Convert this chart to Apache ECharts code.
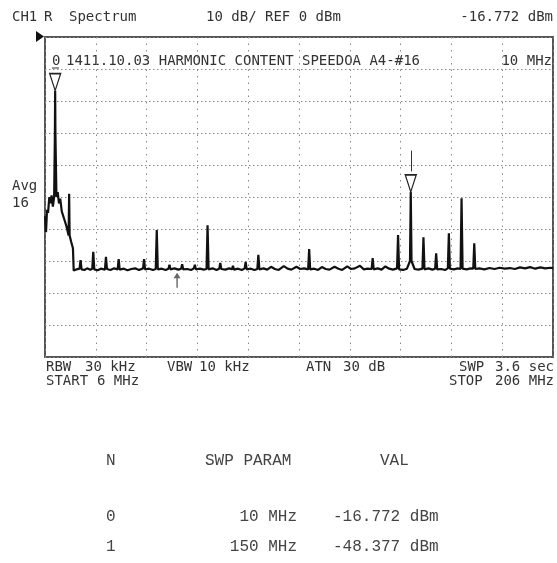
<!DOCTYPE html>
<html>
<head>
<meta charset="utf-8">
<script src="https://cdn.jsdelivr.net/npm/echarts@6/dist/echarts.min.js"></script>
<style>
html,body{margin:0;padding:0;background:#fff;}
#c{width:557px;height:563px;}
</style>
</head>
<body>
<div id="c"></div>
<script>
// ---- data ----
var startMHz = 6, stopMHz = 206;
var refDbm = 0, bottomDbm = -100, dbPerDiv = 10;
var traceFreqMHz = [
 6.0,6.4,6.8,7.2,7.7,8.2,8.6,9.1,9.6,9.9,10.0,10.1,10.5,11.0,11.5,12.0,12.6,13.2,13.8,14.4,15.0,15.3,15.5,15.7,16.3,17.0,17.3,
 18.5,19.6,20.0,20.4,21.5,22.6,23.8,24.6,25.0,25.4,26.7,28.0,29.6,30.0,30.4,31.8,33.2,34.6,35.0,35.4,37.0,38.5,40.0,41.5,43.0,44.6,45.0,45.4,
 47.0,48.5,49.6,50.0,50.4,52.0,53.5,54.6,55.0,55.4,57.0,58.5,59.6,60.0,60.4,62.0,63.5,64.6,65.0,65.4,67.0,68.5,69.6,70.0,70.4,
 72.0,73.5,74.6,75.0,75.4,77.0,78.5,79.6,80.0,80.4,82.0,83.5,84.6,85.0,85.4,87.0,88.5,89.6,90.0,90.4,92.0,93.5,95.0,96.5,98.0,
 100.0,101.5,103.0,105.0,106.5,108.0,109.6,110.0,110.4,112.0,113.5,115.0,116.5,118.0,120.0,121.5,123.0,125.0,126.5,128.0,130.0,
 131.5,133.0,134.6,135.0,135.4,137.0,138.5,140.0,141.5,143.0,144.6,145.0,145.4,147.0,148.5,149.7,150.0,150.3,151.5,153.0,154.6,
 155.0,155.4,157.0,158.5,159.6,160.0,160.4,162.0,163.5,164.6,165.0,165.4,167.0,168.5,169.6,170.0,170.4,172.0,173.5,174.6,175.0,
 175.4,177.0,179.0,181.0,183.0,185.0,187.0,189.0,191.0,193.0,195.0,197.0,199.0,201.0,203.0,205.0,206.0
];
var traceLevelDbm = [
 -56,-61,-54,-55,-50,-52,-49.5,-53,-50,-30,-16.772,-30,-50,-48.5,-52,-50.5,-54.5,-55,-57.5,-59,-61,-62,-49,-62,-64,-66,-73,
 -72.6,-72.4,-69.7,-72.6,-72.8,-72.3,-72.7,-72.4,-67.1,-72.6,-72.9,-72.4,-72.7,-68.7,-72.5,-72.8,-72.3,-72.6,-69.4,-72.7,-72.4,-72.9,-72.5,-72.3,-72.8,-72.3,-69.4,-72.6,
 -72.4,-72.8,-72.5,-60.3,-72.6,-72.4,-72.8,-72.4,-71.2,-72.6,-72.3,-72.7,-72.4,-71.0,-72.6,-72.5,-72.8,-72.3,-71.2,-72.6,-72.4,-72.7,-72.5,-58.8,-72.6,
 -72.3,-72.8,-72.4,-70.6,-72.5,-72.7,-72.3,-72.6,-71.5,-72.7,-72.4,-72.8,-72.3,-70.3,-72.6,-72.4,-72.8,-72.5,-68.1,-72.6,-72.3,-72.7,-71.8,-72.5,-72.8,
 -71.6,-72.4,-72.7,-71.8,-72.5,-72.3,-72.6,-66.3,-72.6,-72.4,-72.8,-71.9,-72.5,-72.7,-71.8,-72.4,-72.8,-71.7,-72.5,-72.3,-71.5,
 -72.6,-72.4,-72.5,-69.1,-72.6,-72.3,-72.7,-71.7,-72.4,-72.7,-72.3,-61.9,-72.6,-72.8,-72.4,-70,-48.377,-70,-72.5,-72.7,-72.4,
 -62.6,-72.6,-72.3,-72.7,-72.4,-67.6,-72.6,-72.5,-72.8,-72.3,-61.3,-72.4,-72.6,-72.3,-72.5,-50.4,-72.4,-72.6,-72.3,-72.4,-64.5,
 -72.5,-72.3,-72.6,-72.2,-72.5,-72.1,-72.4,-72.2,-72.5,-72.0,-72.3,-71.9,-72.4,-72.0,-72.3,-72.1,-72.2
];
var markerNo = ['0', '1'];
var markerFreqMHz = [10, 150];
var markerLevelDbm = [-16.772, -48.377];
var arrowFreqMHz = 58, arrowLevelDbm = -76;
var headerTexts = ['CH1', 'R', 'Spectrum', '10 dB/ REF 0 dBm', '-16.772 dBm'];
var titleText = '1411.10.03 HARMONIC CONTENT SPEEDOA A4-#16';
var footerRow1 = ['RBW', '30 kHz', 'VBW', '10 kHz', 'ATN', '30 dB', 'SWP', '3.6 sec'];
var footerRow2 = ['START', '6 MHz', 'STOP', '206 MHz'];
var tableHeader = ['N', 'SWP PARAM', 'VAL'];
var tableParams = ['10 MHz', '150 MHz'];
var tableVals = ['-16.772 dBm', '-48.377 dBm'];

// ---- build ----
var trace = traceFreqMHz.map(function (f, i) { return [f, traceLevelDbm[i]]; });
var mono = "'DejaVu Sans Mono', 'Liberation Mono', monospace";
var tfont = "'Liberation Mono', 'DejaVu Sans Mono', monospace";
var TXT = '#333';
function t(x, y, s, opt) {
  opt = opt || {};
  return { type: 'text', x: x, y: y, silent: true,
    style: { text: s, fill: opt.fill || TXT, font: opt.font || ('14px ' + mono),
      textAlign: opt.align || 'left', textVerticalAlign: 'middle' } };
}
var TF = { font: '16px ' + tfont, fill: '#444' };
function tf(x, y, s, align) { return t(x, y, s, { font: TF.font, fill: TF.fill, align: align }); }
var graphics = [
  t(12, 17, headerTexts[0]), t(44, 17, headerTexts[1]), t(69, 17, headerTexts[2]),
  t(206, 17, headerTexts[3]), t(553, 17, headerTexts[4], { align: 'right' }),
  { type: 'polygon', shape: { points: [[36, 31], [44, 36.5], [36, 42]] }, style: { fill: '#111' }, silent: true },
  t(52, 61, markerNo[0]),
  { type: 'line', shape: { x1: 52, y1: 68, x2: 59, y2: 68 }, style: { stroke: '#333', lineWidth: 1 }, silent: true },
  t(66, 61, titleText),
  t(552, 61, '10 MHz', { align: 'right' }),
  t(12, 186, 'Avg'), t(12, 203, '16'),
  t(46, 367, footerRow1[0]), t(85, 367, footerRow1[1]),
  t(167, 367, footerRow1[2]), t(199, 367, footerRow1[3]),
  t(306, 367, footerRow1[4]), t(343, 367, footerRow1[5]),
  t(459, 367, footerRow1[6]), t(554, 367, footerRow1[7], { align: 'right' }),
  t(46, 381, footerRow2[0]), t(97, 381, footerRow2[1]),
  t(449, 381, footerRow2[2]), t(554, 381, footerRow2[3], { align: 'right' }),
  tf(106, 461, tableHeader[0]), tf(205, 461, tableHeader[1]), tf(380, 461, tableHeader[2]),
  tf(106, 517, markerNo[0]), tf(297, 517, tableParams[0], 'right'), tf(333, 517, tableVals[0]),
  tf(106, 547, markerNo[1]), tf(297, 547, tableParams[1], 'right'), tf(333, 547, tableVals[1])
];

var triPath = 'path://M0,0 L12,0 L6,17 Z';
var markPts = markerFreqMHz.map(function (f, i) {
  return { coord: [f, markerLevelDbm[i]], symbol: triPath, symbolSize: [11, 17],
    symbolOffset: [0, '-50%'], symbolKeepAspect: false,
    itemStyle: { color: 'rgba(255,255,255,0.6)', borderColor: '#222', borderWidth: 1.4 } };
});
markPts.push({ coord: [arrowFreqMHz, arrowLevelDbm],
  symbol: 'path://M5,0 L10,6 L6,6 L6,16 L4,16 L4,6 L0,6 Z', symbolSize: [7, 15],
  itemStyle: { color: '#666' } });

var chart = echarts.init(document.getElementById('c'), null, { renderer: 'canvas' });
chart.setOption({
  animation: false,
  backgroundColor: '#fff',
  grid: { left: 45, top: 37, width: 508, height: 320, show: true,
    borderColor: '#555', borderWidth: 2, backgroundColor: '#fff' },
  xAxis: [
    { type: 'value', min: startMHz, max: stopMHz, show: true,
      axisLine: { show: false }, axisTick: { show: false }, axisLabel: { show: false },
      splitLine: { show: false } },
    { type: 'value', min: 0, max: 10, interval: 1, gridIndex: 0, position: 'top',
      axisLine: { show: false }, axisTick: { show: false }, axisLabel: { show: false },
      splitLine: { show: true, lineStyle: { color: '#888', width: 1, type: [1.5, 5] } } }
  ],
  yAxis: { type: 'value', min: bottomDbm, max: refDbm, interval: dbPerDiv,
    axisLine: { show: false }, axisTick: { show: false }, axisLabel: { show: false },
    splitLine: { show: true, lineStyle: { color: '#888', width: 1, type: [1.5, 2.5] } } },
  series: [{
    type: 'line', xAxisIndex: 0, data: trace, showSymbol: false, symbol: 'none',
    lineStyle: { color: '#111', width: 2.2 }, z: 3,
    markPoint: { symbolKeepAspect: false, label: { show: false }, data: markPts, silent: true },
    markLine: { symbol: 'none', silent: true, label: { show: false },
      lineStyle: { color: '#333', width: 1, type: 'solid' },
      data: [[{ coord: [markerFreqMHz[1], -35.5] }, { coord: [markerFreqMHz[1], -42] }]] }
  }],
  graphic: graphics
});
</script>
</body>
</html>
